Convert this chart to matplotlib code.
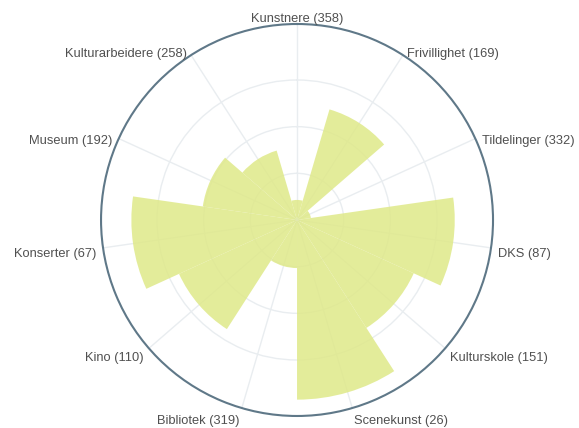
import numpy as np
import matplotlib
matplotlib.use("Agg")
import matplotlib.pyplot as plt
from matplotlib.transforms import ScaledTranslation

categories = ["Kunstnere", "Frivillighet", "Tildelinger", "DKS", "Kulturskole",
              "Scenekunst", "Bibliotek", "Kino", "Konserter", "Museum", "Kulturarbeidere"]
counts = [358, 169, 332, 87, 151, 26, 319, 110, 67, 192, 258]
values = [0.43, 2.47, 0.30, 3.38, 2.75, 3.85, 1.03, 2.78, 3.55, 2.04, 1.55]
rmax = 4.2
rgrid = [1, 2, 3]

plt.rcParams['font.family'] = ['Liberation Sans', 'DejaVu Sans']

fig = plt.figure(figsize=(5.79, 4.28), dpi=100)
ax = fig.add_axes([0.1745, 0.028, 0.677, 0.916], projection='polar')
ax.set_theta_zero_location('N')
ax.set_theta_direction(-1)

n = len(categories)
theta = np.arange(n) * 2 * np.pi / n
width = 2 * np.pi / n

ax.bar(theta, values, width=width, align='center', color='#dfe989', alpha=0.85,
       edgecolor='none', zorder=2)

ax.set_ylim(0, rmax)
ax.set_yticks(rgrid)
ax.set_yticklabels([])
ax.set_xticks(theta)
ax.set_xticklabels([])
ax.grid(True, color='#e9edf0', linewidth=1.0, zorder=1)
ax.set_axisbelow(True)
ax.spines['polar'].set_color('#5f7888')
ax.spines['polar'].set_linewidth(1.5)
ax.tick_params(length=0)

for t, cat, c in zip(theta, categories, counts):
    s = np.sin(t)
    co = np.cos(t)
    if abs(s) < 0.05:
        ha = 'center'
    elif s > 0:
        ha = 'left'
    else:
        ha = 'right'
    if co > 0.95:
        va = 'center'
        dy = -2
    elif co < -0.9:
        va = 'top'
        dy = 0
    else:
        va = 'center'
        dy = -5
    tr = ax.transData + ScaledTranslation(0, dy / 100.0, fig.dpi_scale_trans)
    ax.text(t, rmax * 1.035, f"{cat} ({c})", ha=ha, va=va, fontsize=9.3,
            color='#505050', clip_on=False, transform=tr)

fig.savefig("out.png", dpi=100)
